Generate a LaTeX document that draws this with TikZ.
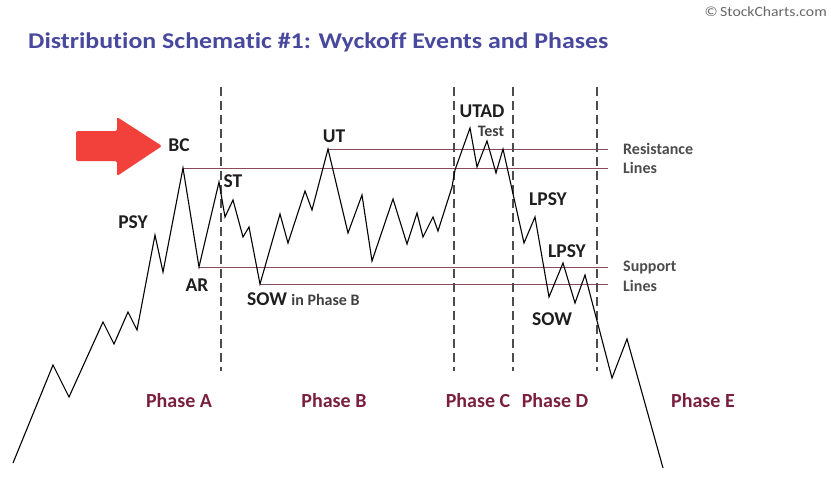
\documentclass[tikz,border=0pt]{standalone}
\usepackage{fontspec}
\setmainfont{Carlito}[Ligatures=NoCommon]
\definecolor{titlecol}{RGB}{72,72,158}
\definecolor{phasecol}{RGB}{122,32,62}
\definecolor{levelcol}{RGB}{135,75,90}
\definecolor{arrowcol}{RGB}{242,64,58}
\definecolor{labelcol}{RGB}{30,30,30}
\begin{document}
\begin{tikzpicture}[x=1pt,y=-1pt,
  lbl/.style={font=\bfseries\fontsize{19.5}{20}\selectfont, text=labelcol, inner sep=0pt},
  smalllbl/.style={font=\bfseries\fontsize{16}{17}\selectfont, text=labelcol!85, inner sep=0pt},
  sidelbl/.style={font=\bfseries\fontsize{16}{17}\selectfont, text=black!70, inner sep=0pt, anchor=west},
  phase/.style={font=\bfseries\fontsize{20}{21}\selectfont, text=phasecol, inner sep=0pt},
  divider/.style={draw=black!70, line width=1.1pt, dash pattern=on 9pt off 5pt},
  level/.style={draw=levelcol, line width=1pt},
  price/.style={draw=black, line width=1.1pt, line join=miter, miter limit=20}]
\path[use as bounding box] (0,0) rectangle (831,477);

% title and credit
\node[anchor=west, inner sep=0pt, text=titlecol, font=\bfseries\fontsize{22.5}{24}\selectfont] (title) at (28,42) {\scalebox{1.15}[1]{Distribution Schematic \#1: Wyckoff Events and Phases}};
\node[anchor=east, inner sep=0pt, text=black!60, font=\fontsize{14}{15}\selectfont] (credit) at (827,12) {\scalebox{1.12}[1]{\char"00A9\,StockCharts.com}};

% key points of the price path
\coordinate (bc) at (183,168);
\coordinate (ar) at (199,267);
\coordinate (st) at (219,182);
\coordinate (sowb) at (260,284);
\coordinate (ut) at (328,149);
\coordinate (utad) at (470,128);

% resistance and support lines
\coordinate (r1e) at (608,149);
\coordinate (r2e) at (608,168);
\coordinate (s1e) at (608,267);
\coordinate (s2e) at (608,284);
\draw[level] (ut) -- (r1e);
\draw[level] (bc) -- (r2e);
\draw[level] (ar) -- (s1e);
\draw[level] (sowb) -- (s2e);

% phase dividers
\foreach \n/\x in {a/221,b/454,c/513,d/597}{
  \coordinate (\n t) at (\x,87);
  \coordinate (\n b) at (\x,371);
  \draw[divider] (\n t) -- (\n b);
}

% price path
\draw[price] (13,463) -- (53,365) -- (69,397) -- (103,322) -- (114,344) -- (128,312)
  -- (137,330) -- (155,235) -- (163,272) -- (bc) -- (ar) -- (st) -- (225,217)
  -- (233,200) -- (243,237) -- (249,227) -- (sowb) -- (280,214) -- (288,243)
  -- (305,191) -- (312,210) -- (ut) -- (348,233) -- (362,195) -- (372,261)
  -- (393,199) -- (407,244) -- (417,213) -- (423,237) -- (433,217) -- (438,231)
  -- (452,187) -- (455,170) -- (utad) -- (477,167) -- (487,141) -- (496,173)
  -- (503,149) -- (524,243) -- (535,217) -- (549,297) -- (563,263) -- (575,303)
  -- (585,275) -- (612,378) -- (627,339) -- (663,468);

% red arrow
\fill[arrowcol, rounded corners=1.5pt] (76,131) -- (117,131) -- (117,117) -- (162,146)
  -- (117,176) -- (117,161) -- (76,161) -- cycle;

% event labels
\node[lbl] (lbc) at (179,145) {BC};
\node[lbl] (lpsy) at (133,222) {PSY};
\node[lbl] (lar) at (197,285) {AR};
\node[lbl] (lst) at (233,181) {ST};
\node[lbl] (lut) at (334,136) {UT};
\node[lbl, anchor=west] (lsowb) at (247,299) {SOW};
\node[smalllbl, anchor=base west] (linb) at ([xshift=4pt]lsowb.base east) {in Phase B};
\node[lbl] (lutad) at (482,111) {UTAD};
\node[smalllbl] (ltest) at (491,131) {Test};
\node[lbl] (llpsy1) at (548,199) {LPSY};
\node[lbl] (llpsy2) at (567,251) {LPSY};
\node[lbl] (lsow) at (552,319) {SOW};

% side labels
\node[sidelbl] (lres) at (623,149) {Resistance};
\node[sidelbl] (lresl) at (623,168) {Lines};
\node[sidelbl] (lsup) at (623,268) {Support};
\node[sidelbl] (lsupl) at (623,286) {Lines};

% phases
\node[phase] (pa) at (179,401) {Phase A};
\node[phase] (pb) at (334,401) {Phase B};
\node[phase] (pc) at (478,401) {Phase C};
\node[phase] (pd) at (555,401) {Phase D};
\node[phase] (pe) at (703,401) {Phase E};
\end{tikzpicture}
\end{document}
